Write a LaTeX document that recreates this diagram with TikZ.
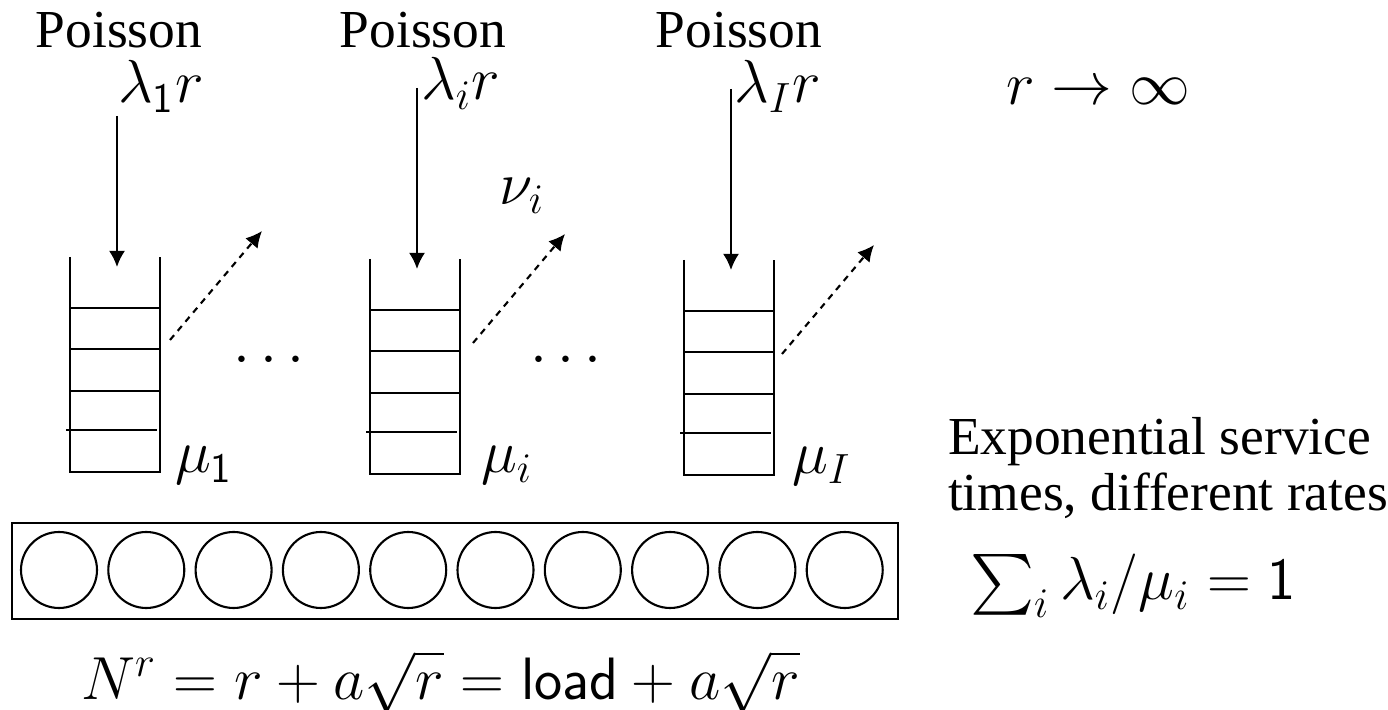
\documentclass[tikz,border=0pt]{standalone}
\usepackage{amsmath}
\usepackage{fontspec}
\setmainfont{Liberation Serif}
\usepackage{tikz}
\usetikzlibrary{arrows.meta}
\tikzset{>={Latex[length=4.6pt,width=4.6pt]}}
\tikzset{
  textlbl/.style={font=\fontsize{15.2}{16}\selectfont, inner sep=0pt},
  mathlbl/.style={font=\fontsize{17}{20}\selectfont, inner sep=0pt},
  abgang/.style={->, dash pattern=on 1.8pt off 1.6pt}
}

\begin{document}
\begin{tikzpicture}[x=0.01cm, y=-0.01cm, line width=0.6pt]

            \useasboundingbox (0,0) rectangle (1388,710);

            % Warteschlangen: Nummer / linke Kante / Oberkante
            \foreach \n/\x/\y in {1/70/257, 2/370/259, 3/684/260} {
              \coordinate (top\n) at (\x+47,\y+10);
              \draw (\x,\y) -- (\x,\y+215) -- (\x+90,\y+215) -- (\x+90,\y);
              \foreach \d in {51,92,134} \draw (\x,\y+\d) -- (\x+90,\y+\d);
              \draw (\x-4,\y+173) -- (\x+87,\y+173);
            }

            % Ankuenfte
            \coordinate (src1) at (117,116);
            \coordinate (src2) at (417,88);
            \coordinate (src3) at (731,89);
            \foreach \n in {1,2,3} \draw[->] (src\n) -- (top\n);

            % Abgaenge (gestrichelt)
            \foreach \n/\a/\b in {1/170/340, 2/473/343, 3/782/354} {
              \coordinate (ab\n) at (\a,\b);
              \coordinate (ziel\n) at (\a+92,\b-109);
              \draw[abgang] (ab\n) -- (ziel\n);
            }

            % Beschriftung oben
            \node[textlbl, anchor=base] (pois1) at (119,48) {Poisson};
            \node[textlbl, anchor=base] (pois2) at (423,48) {Poisson};
            \node[textlbl, anchor=base] (pois3) at (739,48) {Poisson};
            \node[mathlbl, anchor=base west] (lam1) at (117,103) {$\lambda_{\mathsf{1}} r$};
            \node[mathlbl, anchor=base west] (lami) at (420,100) {$\lambda_i r$};
            \node[mathlbl, anchor=base west] (lamI) at (733,103) {$\lambda_I r$};
            \node[mathlbl, anchor=base west] (rinf) at (1005,105) {$r \to \infty$};
            \node[mathlbl] (nu) at (522,196) {$\nu_i$};

            % Punkte zwischen den Schlangen
            \node[mathlbl, anchor=base] (dots1) at (274,375) {$\cdots$};
            \node[mathlbl, anchor=base] (dots2) at (571,375) {$\cdots$};

            % Bedienraten
            \node[mathlbl, anchor=base west] (mu1) at (174,473) {$\mu_{\mathsf{1}}$};
            \node[mathlbl, anchor=base west] (mui) at (480,473) {$\mu_i$};
            \node[mathlbl, anchor=base west] (muI) at (791,474) {$\mu_I$};

            % Text rechts
            \node[textlbl, anchor=base west] (expo) at (947,455) {Exponential service};
            \node[textlbl, anchor=base west] (expob) at (947,511) {times, different rates};
            \node[mathlbl, anchor=base west] (summe) at (969,600) {$\sum_i \lambda_i/\mu_i = \mathsf{1}$};

            % Bediener
            \draw[line width=0.8pt] (12,523) rectangle (898,619);
            \foreach \k in {0,...,9} \draw (59+87.3*\k,570) circle (38);

            % Anzahl Bediener
            \node[mathlbl, anchor=base west] (anzahl) at (80,699) {$N^r = r + a\sqrt{r} = \mathsf{load} + a\sqrt{r}$};

         \end{tikzpicture}
\end{document}
